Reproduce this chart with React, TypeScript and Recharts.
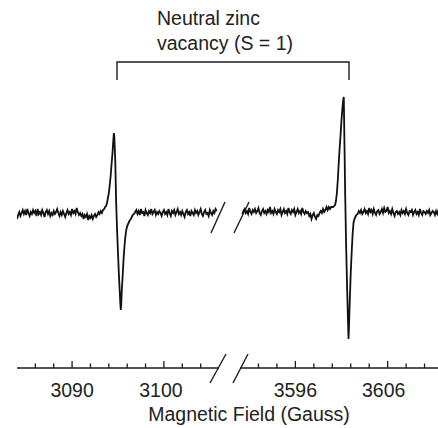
import React from "react";
import { LineChart, Line, XAxis, YAxis } from "recharts";

// EPR trace, [field (G), signal (arb.)].
// Left window, around 3095 G
const LEFT_BEFORE: [number, number][] = [
  [3084.0, -4], [3084.125, 0], [3084.25, 3], [3084.375, -1], [3084.5, 2], [3084.625, 5],
  [3084.75, 1], [3084.875, 4], [3085.0, 0], [3085.125, 6], [3085.25, 2], [3085.375, -1],
  [3085.5, 3], [3085.625, 1], [3085.75, 5], [3085.875, 2], [3086.0, 4], [3086.125, -1],
  [3086.25, 6], [3086.375, 1], [3086.5, 3], [3086.625, 0], [3086.75, 5], [3086.875, 2],
  [3087.0, -2], [3087.125, 3], [3087.25, 5], [3087.375, 1], [3087.5, 4], [3087.625, -1],
  [3087.75, 2], [3087.875, 0], [3088.0, 4], [3088.125, 1], [3088.25, 3], [3088.375, 6],
  [3088.5, 2], [3088.625, -1], [3088.75, 3], [3088.875, 0], [3089.0, 4], [3089.125, 1],
  [3089.25, -2], [3089.375, 2], [3089.5, 5], [3089.625, 1], [3089.75, 3], [3089.875, 0],
  [3090.0, 6], [3090.125, 2], [3090.25, 4], [3090.375, 1], [3090.5, 7], [3090.625, 3],
  [3090.75, 0], [3090.875, 2], [3091.0, -1], [3091.125, 1], [3091.25, -4], [3091.375, 0],
  [3091.5, -2], [3091.625, 1], [3091.75, -5], [3091.875, -1], [3092.0, -3], [3092.125, 0],
  [3092.25, -4], [3092.375, -1], [3092.5, 1], [3092.625, -2], [3092.75, 0], [3092.875, 3],
  [3093.0, 1], [3093.125, 4], [3093.25, 2], [3093.375, 5], [3093.5, 6],
];

const LEFT_LINE: [number, number][] = [
  [3093.6, 8], [3093.7, 9], [3093.8, 12], [3093.9, 17], [3094.0, 22], [3094.1, 30],
  [3094.2, 39], [3094.3, 51], [3094.4, 62], [3094.5, 76], [3094.55, 82], [3094.6, 78],
  [3094.7, 55], [3094.8, 12], [3094.9, -15], [3095.0, -38], [3095.1, -60], [3095.2, -78],
  [3095.25, -88], [3095.3, -95], [3095.35, -90], [3095.4, -78], [3095.5, -62], [3095.6, -45],
  [3095.7, -32], [3095.8, -22], [3095.9, -15], [3096.0, -11], [3096.1, -9], [3096.2, -7],
  [3096.3, -5], [3096.4, -4], [3096.5, -2], [3096.6, 0],
];

const LEFT_AFTER: [number, number][] = [
  [3096.75, 1], [3096.875, 3], [3097.0, 5], [3097.125, 1], [3097.25, 4], [3097.375, 0],
  [3097.5, 6], [3097.625, 2], [3097.75, 3], [3097.875, -1], [3098.0, 5], [3098.125, 2],
  [3098.25, 0], [3098.375, 4], [3098.5, 2], [3098.625, 6], [3098.75, 1], [3098.875, 3],
  [3099.0, 5], [3099.125, 0], [3099.25, 3], [3099.375, 1], [3099.5, 4], [3099.625, 2],
  [3099.75, -1], [3099.875, 3], [3100.0, 5], [3100.125, 1], [3100.25, 3], [3100.375, 0],
  [3100.5, 6], [3100.625, 2], [3100.75, -1], [3100.875, 4], [3101.0, 2], [3101.125, 5],
  [3101.25, 0], [3101.375, 3], [3101.5, 6], [3101.625, 1], [3101.75, 3], [3101.875, 0],
  [3102.0, 4], [3102.125, 1], [3102.25, -2], [3102.375, 3], [3102.5, 5], [3102.625, 1],
  [3102.75, 3], [3102.875, -1], [3103.0, 4], [3103.125, 2], [3103.25, 0], [3103.375, 5],
  [3103.5, 2], [3103.625, 4], [3103.75, 0], [3103.875, 3], [3104.0, 6], [3104.125, 1],
  [3104.25, -1], [3104.375, 3], [3104.5, 5], [3104.625, 1], [3104.75, 2], [3104.875, -1],
  [3105.0, 5], [3105.125, 2], [3105.25, 0], [3105.375, 4], [3105.5, 2], [3105.625, 6],
  [3105.75, 4],
];

// Right window, around 3601 G
const RIGHT_BEFORE: [number, number][] = [
  [3590.25, 1], [3590.375, 4], [3590.5, 6], [3590.625, 2], [3590.75, 4], [3590.875, 1],
  [3591.0, 7], [3591.125, 3], [3591.25, 1], [3591.375, 5], [3591.5, 3], [3591.625, 6],
  [3591.75, 2], [3591.875, 4], [3592.0, 7], [3592.125, 2], [3592.25, 0], [3592.375, 4],
  [3592.5, 6], [3592.625, 2], [3592.75, 4], [3592.875, 1], [3593.0, 5], [3593.125, 3],
  [3593.25, 8], [3593.375, 2], [3593.5, 4], [3593.625, 1], [3593.75, 6], [3593.875, 3],
  [3594.0, 1], [3594.125, 5], [3594.25, 3], [3594.375, 6], [3594.5, 0], [3594.625, 3],
  [3594.75, 6], [3594.875, 2], [3595.0, 4], [3595.125, 1], [3595.25, 7], [3595.375, 3],
  [3595.5, 1], [3595.625, 5], [3595.75, 3], [3595.875, 6], [3596.0, 0], [3596.125, 3],
  [3596.25, 6], [3596.375, 2], [3596.5, 4], [3596.625, 1], [3596.75, 7], [3596.875, 3],
  [3597.0, 1], [3597.125, 4], [3597.25, 2], [3597.375, 3], [3597.5, -1], [3597.625, 1],
  [3597.75, -4], [3597.875, 0], [3598.0, 2], [3598.125, -2], [3598.25, -4], [3598.375, 0],
  [3598.5, -1], [3598.625, 2], [3598.75, 4], [3598.875, 2], [3599.0, 6], [3599.125, 3],
  [3599.25, 5], [3599.375, 8], [3599.5, 5], [3599.625, 8], [3599.75, 6], [3599.875, 8],
];

const RIGHT_LINE: [number, number][] = [
  [3600.0, 8], [3600.1, 8], [3600.2, 9], [3600.3, 10], [3600.4, 14], [3600.5, 22],
  [3600.6, 35], [3600.7, 52], [3600.8, 67], [3600.9, 80], [3601.0, 95], [3601.1, 107],
  [3601.2, 116], [3601.25, 118], [3601.3, 85], [3601.4, 20], [3601.5, -30], [3601.6, -70],
  [3601.7, -105], [3601.76, -124], [3601.8, -115], [3601.9, -85], [3602.0, -58], [3602.1, -38],
  [3602.2, -20], [3602.3, -8], [3602.4, -4], [3602.5, -2], [3602.6, 0],
];

const RIGHT_AFTER: [number, number][] = [
  [3602.75, 1], [3602.875, 4], [3603.0, 2], [3603.125, 5], [3603.25, 1], [3603.375, 3],
  [3603.5, 6], [3603.625, 2], [3603.75, 4], [3603.875, 1], [3604.0, 7], [3604.125, 3],
  [3604.25, 5], [3604.375, 1], [3604.5, 6], [3604.625, 2], [3604.75, 0], [3604.875, 4],
  [3605.0, 5], [3605.125, 1], [3605.25, 3], [3605.375, 6], [3605.5, 2], [3605.625, 7],
  [3605.75, 3], [3605.875, 4], [3606.0, 8], [3606.125, 2], [3606.25, 4], [3606.375, 1],
  [3606.5, 6], [3606.625, 2], [3606.75, -1], [3606.875, 3], [3607.0, 4], [3607.125, 1],
  [3607.25, 3], [3607.375, 0], [3607.5, 5], [3607.625, 2], [3607.75, 4], [3607.875, 1],
  [3608.0, 6], [3608.125, 2], [3608.25, 0], [3608.375, 4], [3608.5, 3], [3608.625, 5],
  [3608.75, 0], [3608.875, 3], [3609.0, 5], [3609.125, 1], [3609.25, 3], [3609.375, 0],
  [3609.5, 6], [3609.625, 2], [3609.75, 0], [3609.875, 4], [3610.0, 3], [3610.125, 1],
  [3610.25, 4], [3610.375, 2], [3610.5, 5], [3610.625, 0], [3610.75, 2], [3610.875, 4],
  [3611.0, 3], [3611.125, 0], [3611.25, 4], [3611.375, 1], [3611.5, 5], [3611.625, 2],
  [3611.75, 3], [3611.875, 1], [3612.0, 3],
];

const LEFT_DOMAIN = [3084, 3106];
const RIGHT_DOMAIN = [3590, 3612];
const LEFT_TICKS = [3086, 3088, 3090, 3092, 3094, 3096, 3098, 3100, 3102, 3104];
const RIGHT_TICKS = [3592, 3594, 3596, 3598, 3600, 3602, 3604, 3606, 3608, 3610];
const LEFT_LABELS = [3090, 3100];
const RIGHT_LABELS = [3596, 3606];

const INK = "#1c1c1c";
const FONT = "'Liberation Sans', Arial, Helvetica, sans-serif";
const FS = 19.5;
const PLOT_H = 312; // plot height inside each segment, axis line sits here

// labels in the original sit a touch left of some major ticks
const LABEL_DX: Record<number, number> = { 3100: -3, 3606: -4 };

const toRows = (...parts: [number, number][][]) =>
  parts.flat().map(([field, signal]) => ({ field, signal }));

// ticks point up into the plot, labels only on majors
const FieldTick = ({ x, payload, labels }: any) => {
  const major = labels.includes(payload.value);
  return (
    <g>
      <line
        x1={x}
        x2={x}
        y1={PLOT_H}
        y2={PLOT_H - (major ? 7 : 4.5)}
        stroke={INK}
        strokeWidth={1.3}
      />
      {major && (
        <text
          x={x + (LABEL_DX[payload.value] || 0)}
          y={PLOT_H + 29}
          textAnchor="middle"
          fontSize={FS}
          fontFamily={FONT}
          fill="#222"
        >
          {payload.value}
        </text>
      )}
    </g>
  );
};

const Segment = ({ rows, domain, ticks, labels, left, width }: any) => (
  <div style={{ position: "absolute", left, top: 56 }}>
    <LineChart width={width} height={PLOT_H + 40} data={rows} margin={{ top: 0, right: 0, bottom: 0, left: 0 }}>
      <XAxis
        type="number"
        dataKey="field"
        domain={domain}
        ticks={ticks}
        interval={0}
        allowDataOverflow
        height={40}
        tickSize={0}
        tickMargin={0}
        tickLine={false}
        axisLine={{ stroke: INK, strokeWidth: 1.4 }}
        tick={<FieldTick labels={labels} />}
      />
      <YAxis hide type="number" domain={[-153, 159]} allowDataOverflow />
      <Line
        type="linear"
        dataKey="signal"
        stroke="#111"
        strokeWidth={1.8}
        dot={false}
        isAnimationActive={false}
      />
    </LineChart>
  </div>
);

export default function App() {
  return (
    <div
      style={{
        position: "absolute",
        left: 0,
        top: 0,
        width: 438,
        height: 428,
        overflow: "hidden",
        background: "#fff",
        fontFamily: FONT,
      }}
    >
      <Segment
        rows={toRows(LEFT_BEFORE, LEFT_LINE, LEFT_AFTER)}
        domain={LEFT_DOMAIN}
        ticks={LEFT_TICKS}
        labels={LEFT_LABELS}
        left={17}
        width={202}
      />
      <Segment
        rows={toRows(RIGHT_BEFORE, RIGHT_LINE, RIGHT_AFTER)}
        domain={RIGHT_DOMAIN}
        ticks={RIGHT_TICKS}
        labels={RIGHT_LABELS}
        left={240}
        width={203}
      />

      <svg
        width={438}
        height={428}
        style={{ position: "absolute", left: 0, top: 0, pointerEvents: "none" }}
      >
        <g fontFamily={FONT} fontSize={FS} fill="#222">
          <text x={157} y={25}>Neutral zinc</text>
          <text x={157} y={50}>vacancy (S = 1)</text>
          <text x={249} y={421} textAnchor="middle">Magnetic Field (Gauss)</text>
        </g>
        {/* bracket joining the two lines */}
        <path d="M117,80 V62 H349 V80" fill="none" stroke={INK} strokeWidth={1.4} />
        {/* axis breaks */}
        <g stroke={INK} strokeWidth={1.4}>
          <line x1={211} y1={233} x2={225} y2={202} />
          <line x1={234} y1={233} x2={249} y2={202} />
          <line x1={210} y1={383} x2={226} y2={354} />
          <line x1={233} y1={383} x2={248} y2={354} />
        </g>
      </svg>
    </div>
  );
}
